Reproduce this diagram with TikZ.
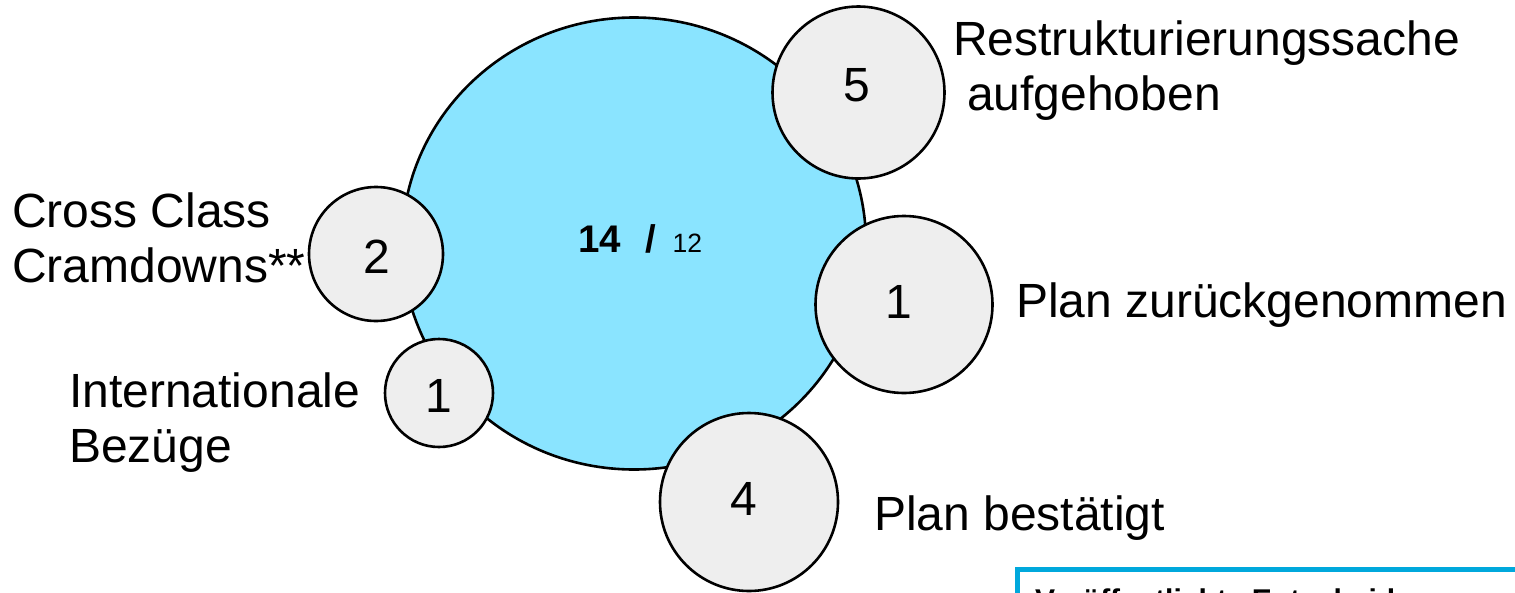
\documentclass[tikz,border=0pt]{standalone}
\usepackage{fontspec}
\setmainfont{Liberation Sans}
\usetikzlibrary{shapes.geometric}
\definecolor{bigblue}{RGB}{138,228,255}
\definecolor{smallgray}{RGB}{238,238,238}
\definecolor{boxblue}{RGB}{0,168,220}
\begin{document}
\begin{tikzpicture}[x=1pt,y=-1pt,
  bigc/.style={ellipse, draw, line width=2.6pt, fill=bigblue, minimum width=464pt, minimum height=452pt, inner sep=0pt},
  smallc/.style={circle, draw, line width=2.6pt, fill=smallgray, inner sep=0pt},
  num/.style={font=\fontsize{48}{55}\selectfont, inner sep=0pt, anchor=center},
  lbl/.style={font=\fontsize{48}{55}\selectfont, inner sep=0pt, anchor=base west},
  infobox/.style={draw=boxblue, line width=5pt, fill=white}]
\useasboundingbox (0,0) rectangle (1515,592);
\clip (0,0) rectangle (1515,592);
% central circle
\node[bigc] (big) at (634,243.5) {};
\node[inner sep=0pt, anchor=base west] (total) at (578,252)
  {\fontsize{38.5}{40}\selectfont\bfseries 14\hspace{24pt}/\hspace{17pt}\mdseries\fontsize{26.5}{30}\selectfont 12};
% satellite circles
\node[smallc, minimum size=172pt] (c5) at (858.5,92.5) {};
\node[smallc, minimum size=134pt] (c2) at (376,254) {};
\node[smallc, minimum size=108pt] (c1a) at (439,393) {};
\node[smallc, minimum size=177pt] (c1b) at (904,304.5) {};
\node[smallc, minimum size=178pt] (c4) at (749,502) {};
% numbers
\node[num] (n5) at (857,85) {5};
\node[num] (n2) at (377,257) {2};
\node[num] (n1a) at (439,395.5) {1};
\node[num] (n1b) at (899,302) {1};
\node[num] (n4) at (744,498.5) {4};
% labels
\node[lbl] (l5a) at (953,55) {Restrukturierungssache};
\node[lbl] (l5b) at (967,110) {aufgehoben};
\node[lbl] (l2a) at (12,227) {Cross Class};
\node[lbl] (l2b) at (12,282) {Cramdowns**};
\node[lbl] (l1a) at (69,407) {Internationale};
\node[lbl] (l1b) at (69,462) {Bezüge};
\node[lbl] (l1c) at (1016,317) {Plan zurückgenommen};
\node[lbl] (l4) at (874,530) {Plan bestätigt};
% cut-off info box
\draw[infobox] (1017,569) rectangle (1540,640);
\node[inner sep=0pt, anchor=base west, font=\bfseries\fontsize{30}{34}\selectfont] (boxtext) at (1035,610) {Veröffentlichte Entscheidungen};
\end{tikzpicture}
\end{document}
